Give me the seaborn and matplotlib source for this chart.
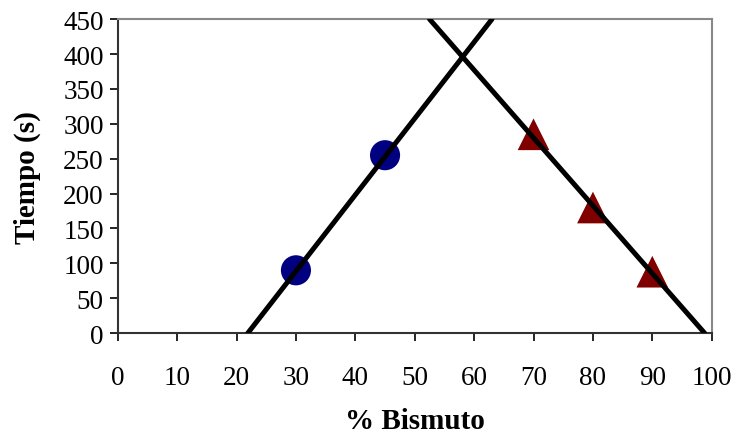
import matplotlib
matplotlib.use("Agg")
import matplotlib.pyplot as plt
import seaborn as sns
import pandas as pd

# Data
bi_low_x = [30, 45]
bi_low_y = [90, 255]
bi_high_x = [70, 80, 90]
bi_high_y = [285, 180, 88]
# Fitted lines (endpoints)
fit1_x = [21.9, 63.0]
fit1_y = [0, 450]
fit2_x = [52.5, 98.8]
fit2_y = [450, 0]
x_ticks = list(range(0, 101, 10))
y_ticks = list(range(0, 451, 50))

sns.set_theme(style="white")
plt.rcParams['font.family'] = ['Liberation Serif', 'DejaVu Serif']
plt.rcParams['text.color'] = 'black'
plt.rcParams['axes.labelcolor'] = 'black'

fig = plt.figure(figsize=(7.36, 4.39), dpi=100)
ax = fig.add_axes([0.160, 0.239, 0.807, 0.715])

sns.lineplot(x=fit1_x, y=fit1_y, ax=ax, color="black", linewidth=3.6, zorder=3)
sns.lineplot(x=fit2_x, y=fit2_y, ax=ax, color="black", linewidth=3.6, zorder=3)
sns.scatterplot(x=bi_low_x, y=bi_low_y, ax=ax, color="#000080", marker="o",
                s=470, edgecolor="none", zorder=2)
sns.scatterplot(x=bi_high_x, y=bi_high_y, ax=ax, color="#800000", marker="^",
                s=520, edgecolor="none", zorder=2)

ax.set_xlim(0, 100)
ax.set_ylim(0, 450)
ax.set_xticks(x_ticks)
ax.set_yticks(y_ticks)
ax.tick_params(axis="both", direction="out", length=6, width=1.2, colors="black",
               labelsize=19.5, bottom=True, left=True)
ax.tick_params(axis="x", pad=17)
ax.tick_params(axis="y", pad=4)
for side in ["left", "bottom"]:
    ax.spines[side].set_color("#333333")
    ax.spines[side].set_linewidth(1.5)
for side in ["top", "right"]:
    ax.spines[side].set_color("#888888")
    ax.spines[side].set_linewidth(1.5)

ax.set_xlabel("% Bismuto", fontsize=21, fontweight="bold", labelpad=12, color="black")
ax.set_ylabel("Tiempo (s)", fontsize=21, fontweight="bold", labelpad=16, color="black")

fig.savefig("out.png", dpi=100)
